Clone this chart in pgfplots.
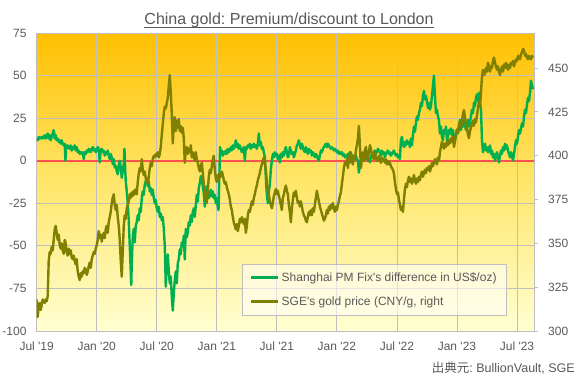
\documentclass[border=0pt]{standalone}
\usepackage{fontspec}
\setmainfont{Liberation Sans}[Ligatures=TeXOff]
\newfontfamily\cjk{Noto Sans CJK JP}
\usepackage{pgfplots}
\pgfplotsset{compat=1.18}
\usepackage{pgfplotstable}
\definecolor{txt}{HTML}{595959}
\definecolor{gridc}{HTML}{BFBFBF}
\definecolor{grn}{HTML}{00B050}
\definecolor{oli}{HTML}{808000}
\definecolor{redl}{HTML}{FF5050}
\definecolor{bgtop}{HTML}{FFC000}
\definecolor{bgmid}{HTML}{FFE66A}
\definecolor{bgbot}{HTML}{FFFFD2}

\pgfplotstableread{
m v
0.0 13
0.1 12
0.2 14
0.3 13
0.5 14
0.6 13
0.8 15
0.9 13
1.0 14
1.1 16
1.2 13
1.3 15
1.4 12
1.5 14
1.6 16
1.7 18
1.8 13
1.9 15
2.0 12
2.1 13
2.2 11
2.3 12
2.4 10
2.5 12
2.6 10
2.7 9
2.8 10
2.87 0
2.95 9
3.0 7
3.1 9
3.2 8
3.3 7
3.4 9
3.5 6
3.6 8
3.7 7
3.8 9
3.9 6
4.0 8
4.1 5
4.2 6
4.3 4
4.4 5
4.5 4
4.6 5
4.7 1
4.8 5
4.9 4
5.0 6
5.1 5
5.2 7
5.3 6
5.4 5
5.5 7
5.6 8
5.7 6
5.8 7
5.9 5
6.0 6
6.1 8
6.2 7
6.3 -1
6.4 6
6.5 7
6.6 5
6.7 6
6.8 3
6.9 5
7.0 4
7.1 6
7.2 3
7.3 1
7.4 4
7.5 2
7.6 -2
7.7 1
7.8 -4
7.9 -3
8.0 -6
8.1 -8
8.2 -3
8.3 0
8.4 -4
8.5 -10
8.6 -6
8.7 -2
8.77 7
8.85 -6
8.9 -12
9.0 -18
9.1 -25
9.2 -35
9.3 -50
9.4 -65
9.45 -73
9.5 -60
9.6 -45
9.7 -40
9.8 -48
9.9 -38
10.0 -36
10.1 -32
10.2 -35
10.3 -28
10.4 -30
10.5 -22
10.6 -18
10.7 -20
10.8 -14
10.9 -12
11.0 -10
11.1 -15
11.2 -12
11.3 -18
11.4 -16
11.5 -20
11.6 -17
11.7 -22
11.8 -25
11.9 -23
12.0 -28
12.1 -30
12.2 -27
12.3 -33
12.4 -31
12.5 -35
12.6 -33
12.7 -40
12.8 -50
12.9 -74
13.0 -60
13.1 -55
13.2 -65
13.3 -72
13.4 -68
13.5 -80
13.6 -88
13.7 -78
13.8 -70
13.9 -65
14.0 -72
14.1 -60
14.2 -58
14.3 -52
14.4 -55
14.5 -48
14.6 -50
14.7 -44
14.8 -58
14.9 -40
15.0 -45
15.1 -42
15.2 -36
15.3 -38
15.4 -32
15.5 -36
15.6 -30
15.7 -28
15.8 -33
15.9 -26
16.0 -20
16.1 -24
16.2 -16
16.3 -13
16.4 -9
16.5 -11
16.6 -15
16.7 -19
16.8 -27
16.9 -20
17.0 -15
17.1 -18
17.2 -22
17.3 -20
17.4 -17
17.5 -21
17.6 -18
17.7 -22
17.8 -20
17.9 -25
18.0 -22
18.1 -27
18.17 -29
18.25 -10
18.33 8
18.4 4
18.5 6
18.6 3
18.7 5
18.8 4
18.9 6
19.0 4
19.1 7
19.2 5
19.3 6
19.4 8
19.5 6
19.6 9
19.7 7
19.8 9
19.9 12
20.0 8
20.1 10
20.2 7
20.3 9
20.4 7
20.5 5
20.6 6
20.7 8
20.8 0
20.9 8
21.0 7
21.1 9
21.2 8
21.3 10
21.4 7
21.5 9
21.6 8
21.7 10
21.8 8
21.9 9
22.0 7
22.1 10
22.2 16
22.3 9
22.4 11
22.5 7
22.6 8
22.7 5
22.8 2
22.9 -10
23.0 -20
23.1 -25
23.2 -18
23.3 -14
23.4 -5
23.5 0
23.6 4
23.7 2
23.8 5
23.9 3
24.0 4
24.1 1
24.2 3
24.3 -1
24.4 4
24.5 2
24.6 5
24.7 3
24.8 6
24.9 8
25.0 5
25.1 2
25.2 3
25.3 8
25.4 6
25.5 4
25.6 5
25.7 2
25.8 4
25.9 6
26.0 9
26.1 10
26.2 12
26.3 9
26.4 7
26.5 10
26.6 8
26.7 6
26.8 5
26.9 8
27.0 6
27.1 4
27.2 7
27.3 5
27.4 6
27.5 3
27.6 5
27.7 4
27.8 2
27.9 4
28.0 3
28.1 1
28.2 0
28.3 3
28.4 6
28.5 5
28.6 7
28.7 8
28.8 9
28.9 10
29.0 8
29.1 10
29.2 9
29.3 8
29.4 7
29.5 8
29.6 7
29.7 6
29.8 7
29.9 6
30.0 5
30.1 6
30.2 4
30.3 5
30.4 4
30.5 5
30.6 3
30.7 4
30.8 2
30.9 3
31.0 2
31.1 4
31.2 3
31.3 5
31.4 4
31.5 2
31.6 3
31.7 1
31.8 2
31.9 3
32.0 1
32.1 0
32.2 -7
32.3 -2
32.4 0
32.5 2
32.6 3
32.7 4
32.8 2
32.9 1
33.0 3
33.1 0
33.2 1
33.3 -1
33.4 2
33.5 4
33.6 3
33.7 5
33.8 6
33.9 4
34.0 5
34.1 7
34.2 6
34.3 5
34.4 3
34.5 6
34.6 4
34.7 5
34.8 2
34.9 4
35.0 5
35.1 6
35.2 4
35.3 5
35.4 3
35.5 4
35.6 5
35.7 6
35.8 4
35.9 3
36.0 4
36.1 2
36.2 3
36.3 1
36.4 12
36.5 14
36.6 10
36.7 8
36.8 11
36.9 9
37.0 12
37.1 10
37.2 11
37.3 8
37.4 13
37.5 9
37.6 15
37.7 20
37.8 17
37.9 22
38.0 26
38.1 24
38.2 28
38.3 30
38.4 34
38.5 32
38.6 38
38.7 41
38.8 36
38.9 38
39.0 35
39.1 31
39.2 34
39.3 30
39.4 32
39.5 38
39.6 44
39.7 50
39.8 38
39.9 28
40.0 30
40.1 26
40.2 24
40.3 16
40.4 20
40.5 14
40.6 12
40.7 18
40.8 16
40.9 20
41.0 12
41.1 14
41.2 18
41.3 16
41.4 19
41.5 15
41.6 18
41.7 14
41.8 12
41.9 15
42.0 18
42.1 16
42.2 20
42.3 24
42.4 18
42.5 22
42.6 20
42.7 24
42.8 21
42.9 18
43.0 22
43.1 24
43.2 20
43.3 23
43.4 26
43.5 30
43.6 28
43.7 34
43.8 32
43.9 37
44.0 39
44.1 35
44.2 40
44.3 34
44.4 30
44.5 12
44.6 5
44.7 8
44.8 10
44.9 6
45.0 8
45.1 5
45.2 7
45.3 9
45.4 4
45.5 6
45.6 2
45.7 4
45.8 0
45.9 3
46.0 5
46.1 2
46.2 -1
46.3 3
46.4 6
46.5 4
46.6 8
46.7 6
46.8 10
46.9 7
47.0 9
47.1 6
47.2 4
47.3 2
47.4 5
47.5 3
47.6 0
47.7 4
47.8 8
47.9 12
48.0 10
48.1 14
48.2 18
48.3 16
48.4 19
48.5 22
48.6 20
48.7 26
48.8 30
48.9 28
49.0 33
49.1 37
49.2 35
49.3 40
49.4 47
49.5 44
49.6 42
}\premium

\pgfplotstableread{
m p
0.0 318
0.1 308
0.2 314
0.3 316
0.4 312
0.5 315
0.6 318
0.7 317
0.8 316
0.9 318
1.0 317
1.1 320
1.2 340
1.3 345
1.4 344
1.5 348
1.6 346
1.7 352
1.8 358
1.9 360
2.0 356
2.1 352
2.2 355
2.3 349
2.4 347
2.5 350
2.6 346
2.7 344
2.8 352
2.9 350
3.0 345
3.1 343
3.2 347
3.3 344
3.4 346
3.5 342
3.6 341
3.7 343
3.8 340
3.9 338
4.0 341
4.1 334
4.2 331
4.3 329
4.4 333
4.5 331
4.6 334
4.7 333
4.8 336
4.9 335
5.0 332
5.1 334
5.2 337
5.3 339
5.4 336
5.5 341
5.6 343
5.7 345
5.8 344
5.9 347
6.0 349
6.1 352
6.2 357
6.3 353
6.4 355
6.5 351
6.6 354
6.7 356
6.8 353
6.9 358
7.0 360
7.1 356
7.2 362
7.3 365
7.4 368
7.5 373
7.6 376
7.7 378
7.8 372
7.9 369
8.0 372
8.1 365
8.2 360
8.3 352
8.4 340
8.5 331
8.6 345
8.7 360
8.8 366
8.9 364
9.0 370
9.1 372
9.2 374
9.3 378
9.4 376
9.5 379
9.6 377
9.7 380
9.8 378
9.9 381
10.0 378
10.1 385
10.2 390
10.3 393
10.4 391
10.5 398
10.6 392
10.7 389
10.8 391
10.9 387
11.0 385
11.1 384
11.2 388
11.3 393
11.4 396
11.5 394
11.6 398
11.7 400
11.8 399
11.9 401
12.0 400
12.1 402
12.2 399
12.3 401
12.4 405
12.5 412
12.6 418
12.7 424
12.8 428
12.9 427
13.0 430
13.1 433
13.2 440
13.3 446
13.4 436
13.5 424
13.6 407
13.7 418
13.8 422
13.9 414
14.0 420
14.1 416
14.2 421
14.3 414
14.4 417
14.5 413
14.6 416
14.7 410
14.8 396
14.9 403
15.0 405
15.1 401
15.2 404
15.3 402
15.4 406
15.5 399
15.6 402
15.7 400
15.8 397
15.9 402
16.0 398
16.1 396
16.2 393
16.3 391
16.4 394
16.5 396
16.6 390
16.7 384
16.8 380
16.9 375
17.0 373
17.1 380
17.2 388
17.3 392
17.4 390
17.5 394
17.6 398
17.7 400
17.8 392
17.9 387
18.0 385
18.1 389
18.2 386
18.3 390
18.4 388
18.5 391
18.6 389
18.7 386
18.8 384
18.9 385
19.0 382
19.1 380
19.2 378
19.3 375
19.4 371
19.5 369
19.6 365
19.7 362
19.8 360
19.9 358
20.0 361
20.1 357
20.2 360
20.3 364
20.4 362
20.5 365
20.6 363
20.7 361
20.8 364
20.9 356
21.0 360
21.1 366
21.2 369
21.3 368
21.4 371
21.5 374
21.6 372
21.7 376
21.8 378
21.9 381
22.0 383
22.1 386
22.2 388
22.3 390
22.4 393
22.5 395
22.6 397
22.7 399
22.8 396
22.9 392
23.0 385
23.1 380
23.2 378
23.3 374
23.4 372
23.5 370
23.6 373
23.7 377
23.8 379
23.9 381
24.0 378
24.1 380
24.2 377
24.3 375
24.4 372
24.5 369
24.6 376
24.7 378
24.8 381
24.9 383
25.0 380
25.1 378
25.2 372
25.3 368
25.4 362
25.5 370
25.6 375
25.7 379
25.8 377
25.9 380
26.0 376
26.1 373
26.2 374
26.3 371
26.4 374
26.5 371
26.6 368
26.7 366
26.8 365
26.9 363
27.0 362
27.1 365
27.2 368
27.3 366
27.4 369
27.5 366
27.6 370
27.7 368
27.8 372
27.9 376
28.0 380
28.1 377
28.2 374
28.3 371
28.4 369
28.5 367
28.6 365
28.7 363
28.8 364
28.9 366
29.0 369
29.1 367
29.2 371
29.3 369
29.4 372
29.5 370
29.6 373
29.7 370
29.8 368
29.9 371
30.0 369
30.1 372
30.2 374
30.3 377
30.4 379
30.5 384
30.6 388
30.7 393
30.8 396
30.9 395
31.0 398
31.1 393
31.2 400
31.3 396
31.4 402
31.5 398
31.6 395
31.7 400
31.8 398
31.9 403
32.0 406
32.1 410
32.2 417
32.3 406
32.4 393
32.5 398
32.6 402
32.7 397
32.8 403
32.9 405
33.0 400
33.1 397
33.2 402
33.3 406
33.4 404
33.5 401
33.6 399
33.7 398
33.8 402
33.9 399
34.0 397
34.1 398
34.2 400
34.3 397
34.4 396
34.5 399
34.6 397
34.7 398
34.8 396
34.9 398
35.0 395
35.1 397
35.2 395
35.3 396
35.4 394
35.5 393
35.6 392
35.7 390
35.8 385
35.9 381
36.0 378
36.1 379
36.2 375
36.3 372
36.4 369
36.5 371
36.6 368
36.7 375
36.8 381
36.9 384
37.0 382
37.1 386
37.2 388
37.3 385
37.4 387
37.5 384
37.6 386
37.7 389
37.8 386
37.9 384
38.0 387
38.1 385
38.2 388
38.3 386
38.4 389
38.5 391
38.6 388
38.7 390
38.8 392
38.9 390
39.0 393
39.1 392
39.2 394
39.3 391
39.4 393
39.5 396
39.6 394
39.7 396
39.8 398
39.9 397
40.0 395
40.1 399
40.2 397
40.3 402
40.4 405
40.5 408
40.6 406
40.7 404
40.8 407
40.9 405
41.0 408
41.1 406
41.2 409
41.3 407
41.4 410
41.5 408
41.6 411
41.7 405
41.8 408
41.9 412
42.0 415
42.1 413
42.2 417
42.3 419
42.4 416
42.5 420
42.6 424
42.7 426
42.8 422
42.9 418
43.0 416
43.1 412
43.2 410
43.3 414
43.4 416
43.5 418
43.6 420
43.7 417
43.8 421
43.9 419
44.0 423
44.1 427
44.2 431
44.3 428
44.4 436
44.5 445
44.6 449
44.7 446
44.8 447
44.9 450
45.0 448
45.1 453
45.2 451
45.3 448
45.4 451
45.5 450
45.6 454
45.7 456
45.8 453
45.9 451
46.0 449
46.1 451
46.2 448
46.3 446
46.4 449
46.5 451
46.6 448
46.7 452
46.8 450
46.9 453
47.0 451
47.1 449
47.2 452
47.3 450
47.4 453
47.5 452
47.6 454
47.7 451
47.8 453
47.9 455
48.0 454
48.1 457
48.2 456
48.3 455
48.4 458
48.5 459
48.6 461
48.7 460
48.8 457
48.9 458
49.0 456
49.1 455
49.2 457
49.3 456
49.4 455
49.5 457
49.6 456
}\price

\begin{document}
\frenchspacing
\begin{tikzpicture}
\path[use as bounding box] (0,0) rectangle (580pt,381pt);
\begin{axis}[
  at={(36.7pt,50pt)}, anchor=south west, scale only axis,
  width=497.3pt, height=298pt,
  xmin=0, xmax=49.7, ymin=-100, ymax=75,
  xtick={0,6,...,48},
  xticklabels={Jul '19,Jan '20,Jul '20,Jan '21,Jul '21,Jan '22,Jul '22,Jan '23,Jul '23},
  ytick={-100,-75,...,75},
  grid=major, grid style={gridc, line width=0.8pt},
  axis line style={gridc, line width=1pt},
  major tick length=0pt,
  tick label style={font=\fontsize{12}{14}\selectfont, text=txt},
  /pgf/number format/assume math mode=true,
  yticklabel style={inner sep=0pt, xshift=-10pt},
  xticklabel style={inner sep=0pt, yshift=-11pt},
  axis background/.style={shade, top color=bgtop, bottom color=bgbot, middle color=bgmid},
]
\addplot[redl, line width=2pt, forget plot] coordinates {(0,0) (49.7,0)};
\addplot[grn, line width=2.4pt, line join=round] table[x=m,y=v]{\premium};
\end{axis}
\begin{axis}[
  at={(36.7pt,50pt)}, anchor=south west, scale only axis,
  width=497.3pt, height=298pt,
  xmin=0, xmax=49.7, ymin=300, ymax=470,
  axis x line=none, axis y line*=right,
  ytick={300,325,...,450},
  axis line style={gridc, line width=1pt},
  tick style={gridc, line width=1pt},
  tick align=outside, major tick length=4pt,
  tick label style={font=\fontsize{12}{14}\selectfont, text=txt},
  /pgf/number format/assume math mode=true,
  yticklabel style={inner sep=0pt, xshift=10pt},
  legend style={at={(0.4128,0.2248)}, anchor=north west, draw=gridc, fill=white,
    fill opacity=0.55, draw opacity=1, text opacity=1,
    font=\fontsize{12}{14}\selectfont, text=txt,
    inner xsep=8pt, inner ysep=6pt, row sep=10pt},
  legend cell align=left,
  legend image code/.code={\draw[#1] (0pt,0pt) -- (27pt,0pt);},
]
\addlegendimage{grn, line width=2.5pt}
\addlegendentry{Shanghai PM Fix's difference in US\$/oz)}
\addplot[oli, line width=2.4pt, line join=round] table[x=m,y=p]{\price};
\addlegendentry{SGE's gold price (CNY/g, right}
\end{axis}
\node[anchor=base, text=txt, font=\fontsize{16}{19}\selectfont, inner sep=0pt] (ttl) at (289pt,356pt) {China gold: Premium/discount to London};
\draw[txt, line width=0.8pt] ([yshift=-2.2pt]ttl.base west) -- ([yshift=-2.2pt]ttl.base east);
\node[anchor=base east, text=txt, font=\fontsize{12.5}{15}\selectfont, inner sep=0pt] at (575pt,9pt) {{\cjk 出典元}: BullionVault, SGE};
\end{tikzpicture}
\end{document}
